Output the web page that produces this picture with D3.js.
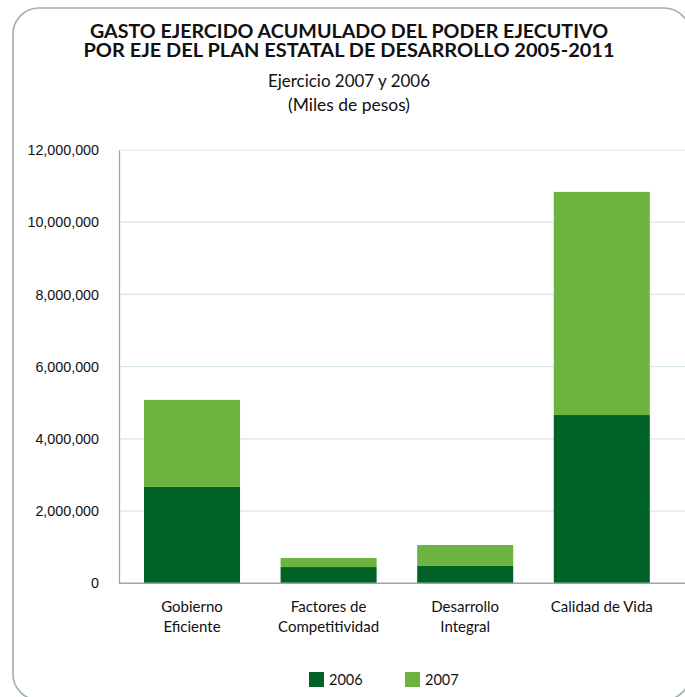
<!DOCTYPE html>
<html><head><meta charset="utf-8">
<script src="https://cdn.jsdelivr.net/npm/d3@7"></script>
<style>
html,body{margin:0;padding:0;background:#fff;}
svg{display:block;font-family:Lato,"Open Sans",sans-serif;}
</style></head>
<body>
<svg id="chart" width="685" height="697"></svg>
<script>
const categories = [["Gobierno","Eficiente"],["Factores de","Competitividad"],["Desarrollo","Integral"],["Calidad de Vida"]];
const categoryKeys = ["Gobierno Eficiente","Factores de Competitividad","Desarrollo Integral","Calidad de Vida"];
const series2006 = [2670000, 450000, 480000, 4660000];
const series2007 = [2410000, 250000, 580000, 6180000];
const seriesNames = ["2006","2007"];
const yTicks = [0,2000000,4000000,6000000,8000000,10000000,12000000];
const titleLines = ["GASTO EJERCIDO ACUMULADO DEL PODER EJECUTIVO","POR EJE DEL PLAN ESTATAL DE DESARROLLO 2005-2011"];
const subtitleLines = ["Ejercicio 2007 y 2006","(Miles de pesos)"];

const colors = {"2006":"#006227","2007":"#6db33f"};
const svg = d3.select("#chart");

svg.append("rect").attr("x",13).attr("y",8).attr("width",677).attr("height",692)
  .attr("rx",26).attr("ry",26).attr("fill","none").attr("stroke","#9fb0a9").attr("stroke-width",1.6);

const cx = 349;
const tw = [518, 531];
titleLines.forEach((t,i)=>{
  svg.append("text").attr("x",cx).attr("y",38.3+i*18.7).attr("text-anchor","middle")
    .attr("font-weight","bold").attr("font-size",18.5).attr("fill","#111")
    .attr("textLength",tw[i]).attr("lengthAdjust","spacingAndGlyphs").text(t);
});
const sw = [162, 122];
subtitleLines.forEach((t,i)=>{
  svg.append("text").attr("x",cx).attr("y",87.3+i*24).attr("text-anchor","middle")
    .attr("font-size",16.5).attr("fill","#111")
    .attr("textLength",sw[i]).attr("lengthAdjust","spacingAndGlyphs").text(t);
});

const data = categoryKeys.map((k,i)=>({key:k, "2006":series2006[i], "2007":series2007[i]}));
const stack = d3.stack().keys(seriesNames)(data);

const x = d3.scaleBand().domain(categoryKeys).range([119,674.8]).paddingInner(0.297).paddingOuter(0.183);
const y = d3.scaleLinear().domain([0,12000000]).range([583.3,150]);

// gridlines
svg.append("g").selectAll("line").data(yTicks.filter(d=>d>0)).join("line")
  .attr("x1",119).attr("x2",685).attr("y1",d=>y(d)).attr("y2",d=>y(d))
  .attr("stroke","#d6e6e9").attr("stroke-width",1.2);

// y axis
const yAxis = svg.append("g").attr("transform","translate(119,0)")
  .call(d3.axisLeft(y).tickValues(yTicks).tickFormat(d3.format(",")).tickSize(0).tickPadding(20));
yAxis.select(".domain").attr("stroke","#9aa9a2").attr("stroke-width",1.3);
yAxis.selectAll("text").attr("font-size",14.3).attr("fill","#111").attr("font-family","inherit");

// bars
svg.append("g").selectAll("g").data(stack).join("g").attr("fill",d=>colors[d.key])
  .selectAll("rect").data(d=>d).join("rect")
  .attr("x",d=>x(d.data.key)).attr("width",x.bandwidth())
  .attr("y",d=>y(d[1])).attr("height",d=>y(d[0])-y(d[1]));

// x axis baseline
svg.append("line").attr("x1",119).attr("x2",685).attr("y1",y(0)).attr("y2",y(0))
  .attr("stroke","#9aa9a2").attr("stroke-width",1.5);

// x labels
const xl = svg.append("g");
categoryKeys.forEach((k,i)=>{
  const t = xl.append("text").attr("x",x(k)+x.bandwidth()/2).attr("y",612)
    .attr("text-anchor","middle").attr("font-size",15).attr("fill","#111");
  categories[i].forEach((line,j)=>{
    t.append("tspan").attr("x",x(k)+x.bandwidth()/2).attr("dy",j===0?0:20).text(line);
  });
});

// legend
const legX = [309,405];
seriesNames.forEach((s,i)=>{
  svg.append("rect").attr("x",legX[i]).attr("y",672).attr("width",15).attr("height",15).attr("fill",colors[s]);
  svg.append("text").attr("x",legX[i]+20).attr("y",685).attr("font-size",14.5).attr("fill","#111").text(s);
});
</script>
</body></html>
